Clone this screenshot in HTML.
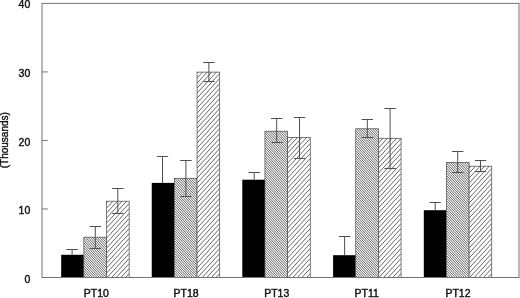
<!DOCTYPE html>
<html><head><meta charset="utf-8"><title>chart</title>
<style>
html,body{margin:0;padding:0;background:#fff;}
svg{display:block;}
text{font-family:"Liberation Sans",sans-serif;font-size:10px;fill:#111;stroke:#111;stroke-width:0.4px;}
</style></head><body>
<svg width="520" height="298" viewBox="0 0 520 298">
<rect width="520" height="298" fill="#fff"/>

<rect x="42.0" y="3.4" width="477.0" height="274.1" fill="none" stroke="#747474" stroke-width="1"/>
<text transform="translate(30.3 8) scale(1.05 1)" text-anchor="end">40</text>
<line x1="42.0" y1="71.93" x2="47.8" y2="71.93" stroke="#747474" stroke-width="1"/>
<text transform="translate(30.3 77) scale(1.05 1)" text-anchor="end">30</text>
<line x1="42.0" y1="140.45" x2="47.8" y2="140.45" stroke="#747474" stroke-width="1"/>
<text transform="translate(30.3 146) scale(1.05 1)" text-anchor="end">20</text>
<line x1="42.0" y1="208.98" x2="47.8" y2="208.98" stroke="#747474" stroke-width="1"/>
<text transform="translate(30.3 214) scale(1.05 1)" text-anchor="end">10</text>
<text transform="translate(30.3 283) scale(1.05 1)" text-anchor="end">0</text>
<text transform="translate(8.2 140.2) rotate(-90)" text-anchor="middle">(Thousands)</text>
<rect x="61.20" y="254.80" width="22.65" height="22.70" fill="#000"/>
<clipPath id="c1"><rect x="83.85" y="237.20" width="22.65" height="40.30"/></clipPath>
<rect x="83.85" y="237.20" width="22.65" height="40.30" fill="#fff"/>
<path clip-path="url(#c1)" d="M83.85 278.00L106.50 302.62M83.85 275.50L106.50 300.12M83.85 273.00L106.50 297.62M83.85 270.50L106.50 295.12M83.85 268.00L106.50 292.62M83.85 265.50L106.50 290.12M83.85 263.00L106.50 287.62M83.85 260.50L106.50 285.12M83.85 258.00L106.50 282.62M83.85 255.50L106.50 280.12M83.85 253.00L106.50 277.62M83.85 250.50L106.50 275.12M83.85 248.00L106.50 272.62M83.85 245.50L106.50 270.12M83.85 243.00L106.50 267.62M83.85 240.50L106.50 265.12M83.85 238.00L106.50 262.62M83.85 235.50L106.50 260.12M83.85 233.00L106.50 257.62M83.85 230.50L106.50 255.12M83.85 228.00L106.50 252.62M83.85 225.50L106.50 250.12M83.85 223.00L106.50 247.62M83.85 220.50L106.50 245.12M83.85 218.00L106.50 242.62M83.85 215.50L106.50 240.12M83.85 213.00L106.50 237.62M83.85 210.50L106.50 235.12M83.85 208.00L106.50 232.62M83.85 205.50L106.50 230.12M83.85 203.00L106.50 227.62M83.85 200.50L106.50 225.12M83.85 198.00L106.50 222.62M83.85 195.50L106.50 220.12M83.85 193.00L106.50 217.62M83.85 190.50L106.50 215.12M83.85 188.00L106.50 212.62M83.85 185.50L106.50 210.12" stroke="#333" stroke-width="0.75" fill="none"/>
<rect x="83.85" y="237.20" width="22.65" height="40.30" fill="none" stroke="#444" stroke-width="0.7"/>
<clipPath id="c2"><rect x="106.50" y="201.20" width="22.65" height="76.30"/></clipPath>
<rect x="106.50" y="201.20" width="22.65" height="76.30" fill="#fff"/>
<path clip-path="url(#c2)" d="M106.50 303.12L129.15 278.50M106.50 298.12L129.15 273.50M106.50 293.12L129.15 268.50M106.50 288.12L129.15 263.50M106.50 283.12L129.15 258.50M106.50 278.12L129.15 253.50M106.50 273.12L129.15 248.50M106.50 268.12L129.15 243.50M106.50 263.12L129.15 238.50M106.50 258.12L129.15 233.50M106.50 253.12L129.15 228.50M106.50 248.12L129.15 223.50M106.50 243.12L129.15 218.50M106.50 238.12L129.15 213.50M106.50 233.12L129.15 208.50M106.50 228.12L129.15 203.50M106.50 223.12L129.15 198.50M106.50 218.12L129.15 193.50M106.50 213.12L129.15 188.50M106.50 208.12L129.15 183.50M106.50 203.12L129.15 178.50M106.50 198.12L129.15 173.50M106.50 193.12L129.15 168.50" stroke="#333" stroke-width="0.75" fill="none"/>
<rect x="106.50" y="201.20" width="22.65" height="76.30" fill="none" stroke="#444" stroke-width="0.7"/>
<path d="M66.40 249.50 H77.80 M72.10 249.50 V254.80" stroke="#505050" stroke-width="1" fill="none"/>
<path d="M89.60 226.50 H101.00 M95.30 226.50 V248.50 M89.60 248.50 H101.00" stroke="#505050" stroke-width="1" fill="none"/>
<path d="M112.10 188.50 H123.50 M117.80 188.50 V213.50 M112.10 213.50 H123.50" stroke="#505050" stroke-width="1" fill="none"/>
<text transform="translate(83.75 297) scale(1.05 1)">PT10</text>
<rect x="151.75" y="182.90" width="22.65" height="94.60" fill="#000"/>
<clipPath id="c3"><rect x="174.40" y="178.30" width="22.65" height="99.20"/></clipPath>
<rect x="174.40" y="178.30" width="22.65" height="99.20" fill="#fff"/>
<path clip-path="url(#c3)" d="M174.40 278.00L197.05 302.62M174.40 275.50L197.05 300.12M174.40 273.00L197.05 297.62M174.40 270.50L197.05 295.12M174.40 268.00L197.05 292.62M174.40 265.50L197.05 290.12M174.40 263.00L197.05 287.62M174.40 260.50L197.05 285.12M174.40 258.00L197.05 282.62M174.40 255.50L197.05 280.12M174.40 253.00L197.05 277.62M174.40 250.50L197.05 275.12M174.40 248.00L197.05 272.62M174.40 245.50L197.05 270.12M174.40 243.00L197.05 267.62M174.40 240.50L197.05 265.12M174.40 238.00L197.05 262.62M174.40 235.50L197.05 260.12M174.40 233.00L197.05 257.62M174.40 230.50L197.05 255.12M174.40 228.00L197.05 252.62M174.40 225.50L197.05 250.12M174.40 223.00L197.05 247.62M174.40 220.50L197.05 245.12M174.40 218.00L197.05 242.62M174.40 215.50L197.05 240.12M174.40 213.00L197.05 237.62M174.40 210.50L197.05 235.12M174.40 208.00L197.05 232.62M174.40 205.50L197.05 230.12M174.40 203.00L197.05 227.62M174.40 200.50L197.05 225.12M174.40 198.00L197.05 222.62M174.40 195.50L197.05 220.12M174.40 193.00L197.05 217.62M174.40 190.50L197.05 215.12M174.40 188.00L197.05 212.62M174.40 185.50L197.05 210.12M174.40 183.00L197.05 207.62M174.40 180.50L197.05 205.12M174.40 178.00L197.05 202.62M174.40 175.50L197.05 200.12M174.40 173.00L197.05 197.62M174.40 170.50L197.05 195.12M174.40 168.00L197.05 192.62M174.40 165.50L197.05 190.12M174.40 163.00L197.05 187.62M174.40 160.50L197.05 185.12M174.40 158.00L197.05 182.62M174.40 155.50L197.05 180.12M174.40 153.00L197.05 177.62M174.40 150.50L197.05 175.12M174.40 148.00L197.05 172.62M174.40 145.50L197.05 170.12M174.40 143.00L197.05 167.62M174.40 140.50L197.05 165.12M174.40 138.00L197.05 162.62M174.40 135.50L197.05 160.12M174.40 133.00L197.05 157.62M174.40 130.50L197.05 155.12M174.40 128.00L197.05 152.62M174.40 125.50L197.05 150.12" stroke="#333" stroke-width="0.75" fill="none"/>
<rect x="174.40" y="178.30" width="22.65" height="99.20" fill="none" stroke="#444" stroke-width="0.7"/>
<clipPath id="c4"><rect x="197.05" y="72.10" width="22.65" height="205.40"/></clipPath>
<rect x="197.05" y="72.10" width="22.65" height="205.40" fill="#fff"/>
<path clip-path="url(#c4)" d="M197.05 303.12L219.70 278.50M197.05 298.12L219.70 273.50M197.05 293.12L219.70 268.50M197.05 288.12L219.70 263.50M197.05 283.12L219.70 258.50M197.05 278.12L219.70 253.50M197.05 273.12L219.70 248.50M197.05 268.12L219.70 243.50M197.05 263.12L219.70 238.50M197.05 258.12L219.70 233.50M197.05 253.12L219.70 228.50M197.05 248.12L219.70 223.50M197.05 243.12L219.70 218.50M197.05 238.12L219.70 213.50M197.05 233.12L219.70 208.50M197.05 228.12L219.70 203.50M197.05 223.12L219.70 198.50M197.05 218.12L219.70 193.50M197.05 213.12L219.70 188.50M197.05 208.12L219.70 183.50M197.05 203.12L219.70 178.50M197.05 198.12L219.70 173.50M197.05 193.12L219.70 168.50M197.05 188.12L219.70 163.50M197.05 183.12L219.70 158.50M197.05 178.12L219.70 153.50M197.05 173.12L219.70 148.50M197.05 168.12L219.70 143.50M197.05 163.12L219.70 138.50M197.05 158.12L219.70 133.50M197.05 153.12L219.70 128.50M197.05 148.12L219.70 123.50M197.05 143.12L219.70 118.50M197.05 138.12L219.70 113.50M197.05 133.12L219.70 108.50M197.05 128.12L219.70 103.50M197.05 123.12L219.70 98.50M197.05 118.12L219.70 93.50M197.05 113.12L219.70 88.50M197.05 108.12L219.70 83.50M197.05 103.12L219.70 78.50M197.05 98.12L219.70 73.50M197.05 93.12L219.70 68.50M197.05 88.12L219.70 63.50M197.05 83.12L219.70 58.50M197.05 78.12L219.70 53.50M197.05 73.12L219.70 48.50M197.05 68.12L219.70 43.50M197.05 63.12L219.70 38.50" stroke="#333" stroke-width="0.75" fill="none"/>
<rect x="197.05" y="72.10" width="22.65" height="205.40" fill="none" stroke="#444" stroke-width="0.7"/>
<path d="M156.80 156.50 H168.20 M162.50 156.50 V182.90" stroke="#505050" stroke-width="1" fill="none"/>
<path d="M180.20 160.50 H191.60 M185.90 160.50 V196.50 M180.20 196.50 H191.60" stroke="#505050" stroke-width="1" fill="none"/>
<path d="M203.20 62.50 H214.60 M208.90 62.50 V81.50 M203.20 81.50 H214.60" stroke="#505050" stroke-width="1" fill="none"/>
<text transform="translate(173.5 297) scale(1.05 1)">PT18</text>
<rect x="242.30" y="179.70" width="22.65" height="97.80" fill="#000"/>
<clipPath id="c5"><rect x="264.95" y="131.20" width="22.65" height="146.30"/></clipPath>
<rect x="264.95" y="131.20" width="22.65" height="146.30" fill="#fff"/>
<path clip-path="url(#c5)" d="M264.95 278.00L287.60 302.62M264.95 275.50L287.60 300.12M264.95 273.00L287.60 297.62M264.95 270.50L287.60 295.12M264.95 268.00L287.60 292.62M264.95 265.50L287.60 290.12M264.95 263.00L287.60 287.62M264.95 260.50L287.60 285.12M264.95 258.00L287.60 282.62M264.95 255.50L287.60 280.12M264.95 253.00L287.60 277.62M264.95 250.50L287.60 275.12M264.95 248.00L287.60 272.62M264.95 245.50L287.60 270.12M264.95 243.00L287.60 267.62M264.95 240.50L287.60 265.12M264.95 238.00L287.60 262.62M264.95 235.50L287.60 260.12M264.95 233.00L287.60 257.62M264.95 230.50L287.60 255.12M264.95 228.00L287.60 252.62M264.95 225.50L287.60 250.12M264.95 223.00L287.60 247.62M264.95 220.50L287.60 245.12M264.95 218.00L287.60 242.62M264.95 215.50L287.60 240.12M264.95 213.00L287.60 237.62M264.95 210.50L287.60 235.12M264.95 208.00L287.60 232.62M264.95 205.50L287.60 230.12M264.95 203.00L287.60 227.62M264.95 200.50L287.60 225.12M264.95 198.00L287.60 222.62M264.95 195.50L287.60 220.12M264.95 193.00L287.60 217.62M264.95 190.50L287.60 215.12M264.95 188.00L287.60 212.62M264.95 185.50L287.60 210.12M264.95 183.00L287.60 207.62M264.95 180.50L287.60 205.12M264.95 178.00L287.60 202.62M264.95 175.50L287.60 200.12M264.95 173.00L287.60 197.62M264.95 170.50L287.60 195.12M264.95 168.00L287.60 192.62M264.95 165.50L287.60 190.12M264.95 163.00L287.60 187.62M264.95 160.50L287.60 185.12M264.95 158.00L287.60 182.62M264.95 155.50L287.60 180.12M264.95 153.00L287.60 177.62M264.95 150.50L287.60 175.12M264.95 148.00L287.60 172.62M264.95 145.50L287.60 170.12M264.95 143.00L287.60 167.62M264.95 140.50L287.60 165.12M264.95 138.00L287.60 162.62M264.95 135.50L287.60 160.12M264.95 133.00L287.60 157.62M264.95 130.50L287.60 155.12M264.95 128.00L287.60 152.62M264.95 125.50L287.60 150.12M264.95 123.00L287.60 147.62M264.95 120.50L287.60 145.12M264.95 118.00L287.60 142.62M264.95 115.50L287.60 140.12M264.95 113.00L287.60 137.62M264.95 110.50L287.60 135.12M264.95 108.00L287.60 132.62M264.95 105.50L287.60 130.12M264.95 103.00L287.60 127.62M264.95 100.50L287.60 125.12M264.95 98.00L287.60 122.62M264.95 95.50L287.60 120.12M264.95 93.00L287.60 117.62M264.95 90.50L287.60 115.12M264.95 88.00L287.60 112.62M264.95 85.50L287.60 110.12M264.95 83.00L287.60 107.62M264.95 80.50L287.60 105.12M264.95 78.00L287.60 102.62" stroke="#333" stroke-width="0.75" fill="none"/>
<rect x="264.95" y="131.20" width="22.65" height="146.30" fill="none" stroke="#444" stroke-width="0.7"/>
<clipPath id="c6"><rect x="287.60" y="137.60" width="22.65" height="139.90"/></clipPath>
<rect x="287.60" y="137.60" width="22.65" height="139.90" fill="#fff"/>
<path clip-path="url(#c6)" d="M287.60 303.12L310.25 278.50M287.60 298.12L310.25 273.50M287.60 293.12L310.25 268.50M287.60 288.12L310.25 263.50M287.60 283.12L310.25 258.50M287.60 278.12L310.25 253.50M287.60 273.12L310.25 248.50M287.60 268.12L310.25 243.50M287.60 263.12L310.25 238.50M287.60 258.12L310.25 233.50M287.60 253.12L310.25 228.50M287.60 248.12L310.25 223.50M287.60 243.12L310.25 218.50M287.60 238.12L310.25 213.50M287.60 233.12L310.25 208.50M287.60 228.12L310.25 203.50M287.60 223.12L310.25 198.50M287.60 218.12L310.25 193.50M287.60 213.12L310.25 188.50M287.60 208.12L310.25 183.50M287.60 203.12L310.25 178.50M287.60 198.12L310.25 173.50M287.60 193.12L310.25 168.50M287.60 188.12L310.25 163.50M287.60 183.12L310.25 158.50M287.60 178.12L310.25 153.50M287.60 173.12L310.25 148.50M287.60 168.12L310.25 143.50M287.60 163.12L310.25 138.50M287.60 158.12L310.25 133.50M287.60 153.12L310.25 128.50M287.60 148.12L310.25 123.50M287.60 143.12L310.25 118.50M287.60 138.12L310.25 113.50M287.60 133.12L310.25 108.50" stroke="#333" stroke-width="0.75" fill="none"/>
<rect x="287.60" y="137.60" width="22.65" height="139.90" fill="none" stroke="#444" stroke-width="0.7"/>
<path d="M248.50 172.50 H259.90 M254.20 172.50 V179.70" stroke="#505050" stroke-width="1" fill="none"/>
<path d="M271.00 118.50 H282.40 M276.70 118.50 V142.50 M271.00 142.50 H282.40" stroke="#505050" stroke-width="1" fill="none"/>
<path d="M293.80 117.50 H305.20 M299.50 117.50 V158.50 M293.80 158.50 H305.20" stroke="#505050" stroke-width="1" fill="none"/>
<text transform="translate(264.2 297) scale(1.05 1)">PT13</text>
<rect x="333.10" y="255.20" width="22.65" height="22.30" fill="#000"/>
<clipPath id="c7"><rect x="355.75" y="128.80" width="22.65" height="148.70"/></clipPath>
<rect x="355.75" y="128.80" width="22.65" height="148.70" fill="#fff"/>
<path clip-path="url(#c7)" d="M355.75 278.00L378.40 302.62M355.75 275.50L378.40 300.12M355.75 273.00L378.40 297.62M355.75 270.50L378.40 295.12M355.75 268.00L378.40 292.62M355.75 265.50L378.40 290.12M355.75 263.00L378.40 287.62M355.75 260.50L378.40 285.12M355.75 258.00L378.40 282.62M355.75 255.50L378.40 280.12M355.75 253.00L378.40 277.62M355.75 250.50L378.40 275.12M355.75 248.00L378.40 272.62M355.75 245.50L378.40 270.12M355.75 243.00L378.40 267.62M355.75 240.50L378.40 265.12M355.75 238.00L378.40 262.62M355.75 235.50L378.40 260.12M355.75 233.00L378.40 257.62M355.75 230.50L378.40 255.12M355.75 228.00L378.40 252.62M355.75 225.50L378.40 250.12M355.75 223.00L378.40 247.62M355.75 220.50L378.40 245.12M355.75 218.00L378.40 242.62M355.75 215.50L378.40 240.12M355.75 213.00L378.40 237.62M355.75 210.50L378.40 235.12M355.75 208.00L378.40 232.62M355.75 205.50L378.40 230.12M355.75 203.00L378.40 227.62M355.75 200.50L378.40 225.12M355.75 198.00L378.40 222.62M355.75 195.50L378.40 220.12M355.75 193.00L378.40 217.62M355.75 190.50L378.40 215.12M355.75 188.00L378.40 212.62M355.75 185.50L378.40 210.12M355.75 183.00L378.40 207.62M355.75 180.50L378.40 205.12M355.75 178.00L378.40 202.62M355.75 175.50L378.40 200.12M355.75 173.00L378.40 197.62M355.75 170.50L378.40 195.12M355.75 168.00L378.40 192.62M355.75 165.50L378.40 190.12M355.75 163.00L378.40 187.62M355.75 160.50L378.40 185.12M355.75 158.00L378.40 182.62M355.75 155.50L378.40 180.12M355.75 153.00L378.40 177.62M355.75 150.50L378.40 175.12M355.75 148.00L378.40 172.62M355.75 145.50L378.40 170.12M355.75 143.00L378.40 167.62M355.75 140.50L378.40 165.12M355.75 138.00L378.40 162.62M355.75 135.50L378.40 160.12M355.75 133.00L378.40 157.62M355.75 130.50L378.40 155.12M355.75 128.00L378.40 152.62M355.75 125.50L378.40 150.12M355.75 123.00L378.40 147.62M355.75 120.50L378.40 145.12M355.75 118.00L378.40 142.62M355.75 115.50L378.40 140.12M355.75 113.00L378.40 137.62M355.75 110.50L378.40 135.12M355.75 108.00L378.40 132.62M355.75 105.50L378.40 130.12M355.75 103.00L378.40 127.62M355.75 100.50L378.40 125.12M355.75 98.00L378.40 122.62M355.75 95.50L378.40 120.12M355.75 93.00L378.40 117.62M355.75 90.50L378.40 115.12M355.75 88.00L378.40 112.62M355.75 85.50L378.40 110.12M355.75 83.00L378.40 107.62M355.75 80.50L378.40 105.12M355.75 78.00L378.40 102.62M355.75 75.50L378.40 100.12" stroke="#333" stroke-width="0.75" fill="none"/>
<rect x="355.75" y="128.80" width="22.65" height="148.70" fill="none" stroke="#444" stroke-width="0.7"/>
<clipPath id="c8"><rect x="378.40" y="138.30" width="22.65" height="139.20"/></clipPath>
<rect x="378.40" y="138.30" width="22.65" height="139.20" fill="#fff"/>
<path clip-path="url(#c8)" d="M378.40 303.12L401.05 278.50M378.40 298.12L401.05 273.50M378.40 293.12L401.05 268.50M378.40 288.12L401.05 263.50M378.40 283.12L401.05 258.50M378.40 278.12L401.05 253.50M378.40 273.12L401.05 248.50M378.40 268.12L401.05 243.50M378.40 263.12L401.05 238.50M378.40 258.12L401.05 233.50M378.40 253.12L401.05 228.50M378.40 248.12L401.05 223.50M378.40 243.12L401.05 218.50M378.40 238.12L401.05 213.50M378.40 233.12L401.05 208.50M378.40 228.12L401.05 203.50M378.40 223.12L401.05 198.50M378.40 218.12L401.05 193.50M378.40 213.12L401.05 188.50M378.40 208.12L401.05 183.50M378.40 203.12L401.05 178.50M378.40 198.12L401.05 173.50M378.40 193.12L401.05 168.50M378.40 188.12L401.05 163.50M378.40 183.12L401.05 158.50M378.40 178.12L401.05 153.50M378.40 173.12L401.05 148.50M378.40 168.12L401.05 143.50M378.40 163.12L401.05 138.50M378.40 158.12L401.05 133.50M378.40 153.12L401.05 128.50M378.40 148.12L401.05 123.50M378.40 143.12L401.05 118.50M378.40 138.12L401.05 113.50M378.40 133.12L401.05 108.50" stroke="#333" stroke-width="0.75" fill="none"/>
<rect x="378.40" y="138.30" width="22.65" height="139.20" fill="none" stroke="#444" stroke-width="0.7"/>
<path d="M338.90 236.50 H350.30 M344.60 236.50 V255.20" stroke="#505050" stroke-width="1" fill="none"/>
<path d="M361.60 119.50 H373.00 M367.30 119.50 V137.50 M361.60 137.50 H373.00" stroke="#505050" stroke-width="1" fill="none"/>
<path d="M384.40 108.50 H395.80 M390.10 108.50 V168.50 M384.40 168.50 H395.80" stroke="#505050" stroke-width="1" fill="none"/>
<text transform="translate(354.6 297) scale(1.05 1)">PT11</text>
<rect x="423.80" y="210.20" width="22.65" height="67.30" fill="#000"/>
<clipPath id="c9"><rect x="446.45" y="162.50" width="22.65" height="115.00"/></clipPath>
<rect x="446.45" y="162.50" width="22.65" height="115.00" fill="#fff"/>
<path clip-path="url(#c9)" d="M446.45 278.00L469.10 302.62M446.45 275.50L469.10 300.12M446.45 273.00L469.10 297.62M446.45 270.50L469.10 295.12M446.45 268.00L469.10 292.62M446.45 265.50L469.10 290.12M446.45 263.00L469.10 287.62M446.45 260.50L469.10 285.12M446.45 258.00L469.10 282.62M446.45 255.50L469.10 280.12M446.45 253.00L469.10 277.62M446.45 250.50L469.10 275.12M446.45 248.00L469.10 272.62M446.45 245.50L469.10 270.12M446.45 243.00L469.10 267.62M446.45 240.50L469.10 265.12M446.45 238.00L469.10 262.62M446.45 235.50L469.10 260.12M446.45 233.00L469.10 257.62M446.45 230.50L469.10 255.12M446.45 228.00L469.10 252.62M446.45 225.50L469.10 250.12M446.45 223.00L469.10 247.62M446.45 220.50L469.10 245.12M446.45 218.00L469.10 242.62M446.45 215.50L469.10 240.12M446.45 213.00L469.10 237.62M446.45 210.50L469.10 235.12M446.45 208.00L469.10 232.62M446.45 205.50L469.10 230.12M446.45 203.00L469.10 227.62M446.45 200.50L469.10 225.12M446.45 198.00L469.10 222.62M446.45 195.50L469.10 220.12M446.45 193.00L469.10 217.62M446.45 190.50L469.10 215.12M446.45 188.00L469.10 212.62M446.45 185.50L469.10 210.12M446.45 183.00L469.10 207.62M446.45 180.50L469.10 205.12M446.45 178.00L469.10 202.62M446.45 175.50L469.10 200.12M446.45 173.00L469.10 197.62M446.45 170.50L469.10 195.12M446.45 168.00L469.10 192.62M446.45 165.50L469.10 190.12M446.45 163.00L469.10 187.62M446.45 160.50L469.10 185.12M446.45 158.00L469.10 182.62M446.45 155.50L469.10 180.12M446.45 153.00L469.10 177.62M446.45 150.50L469.10 175.12M446.45 148.00L469.10 172.62M446.45 145.50L469.10 170.12M446.45 143.00L469.10 167.62M446.45 140.50L469.10 165.12M446.45 138.00L469.10 162.62M446.45 135.50L469.10 160.12M446.45 133.00L469.10 157.62M446.45 130.50L469.10 155.12M446.45 128.00L469.10 152.62M446.45 125.50L469.10 150.12M446.45 123.00L469.10 147.62M446.45 120.50L469.10 145.12M446.45 118.00L469.10 142.62M446.45 115.50L469.10 140.12M446.45 113.00L469.10 137.62M446.45 110.50L469.10 135.12" stroke="#333" stroke-width="0.75" fill="none"/>
<rect x="446.45" y="162.50" width="22.65" height="115.00" fill="none" stroke="#444" stroke-width="0.7"/>
<clipPath id="c10"><rect x="469.10" y="166.20" width="22.65" height="111.30"/></clipPath>
<rect x="469.10" y="166.20" width="22.65" height="111.30" fill="#fff"/>
<path clip-path="url(#c10)" d="M469.10 303.12L491.75 278.50M469.10 298.12L491.75 273.50M469.10 293.12L491.75 268.50M469.10 288.12L491.75 263.50M469.10 283.12L491.75 258.50M469.10 278.12L491.75 253.50M469.10 273.12L491.75 248.50M469.10 268.12L491.75 243.50M469.10 263.12L491.75 238.50M469.10 258.12L491.75 233.50M469.10 253.12L491.75 228.50M469.10 248.12L491.75 223.50M469.10 243.12L491.75 218.50M469.10 238.12L491.75 213.50M469.10 233.12L491.75 208.50M469.10 228.12L491.75 203.50M469.10 223.12L491.75 198.50M469.10 218.12L491.75 193.50M469.10 213.12L491.75 188.50M469.10 208.12L491.75 183.50M469.10 203.12L491.75 178.50M469.10 198.12L491.75 173.50M469.10 193.12L491.75 168.50M469.10 188.12L491.75 163.50M469.10 183.12L491.75 158.50M469.10 178.12L491.75 153.50M469.10 173.12L491.75 148.50M469.10 168.12L491.75 143.50M469.10 163.12L491.75 138.50M469.10 158.12L491.75 133.50" stroke="#333" stroke-width="0.75" fill="none"/>
<rect x="469.10" y="166.20" width="22.65" height="111.30" fill="none" stroke="#444" stroke-width="0.7"/>
<path d="M429.50 202.50 H440.90 M435.20 202.50 V210.20" stroke="#505050" stroke-width="1" fill="none"/>
<path d="M452.00 151.50 H463.40 M457.70 151.50 V172.50 M452.00 172.50 H463.40" stroke="#505050" stroke-width="1" fill="none"/>
<path d="M474.80 160.50 H486.20 M480.50 160.50 V171.50 M474.80 171.50 H486.20" stroke="#505050" stroke-width="1" fill="none"/>
<text transform="translate(445.4 297) scale(1.05 1)">PT12</text>
<line x1="42.0" y1="277.5" x2="519.0" y2="277.5" stroke="#747474" stroke-width="1"/>
</svg></body></html>
